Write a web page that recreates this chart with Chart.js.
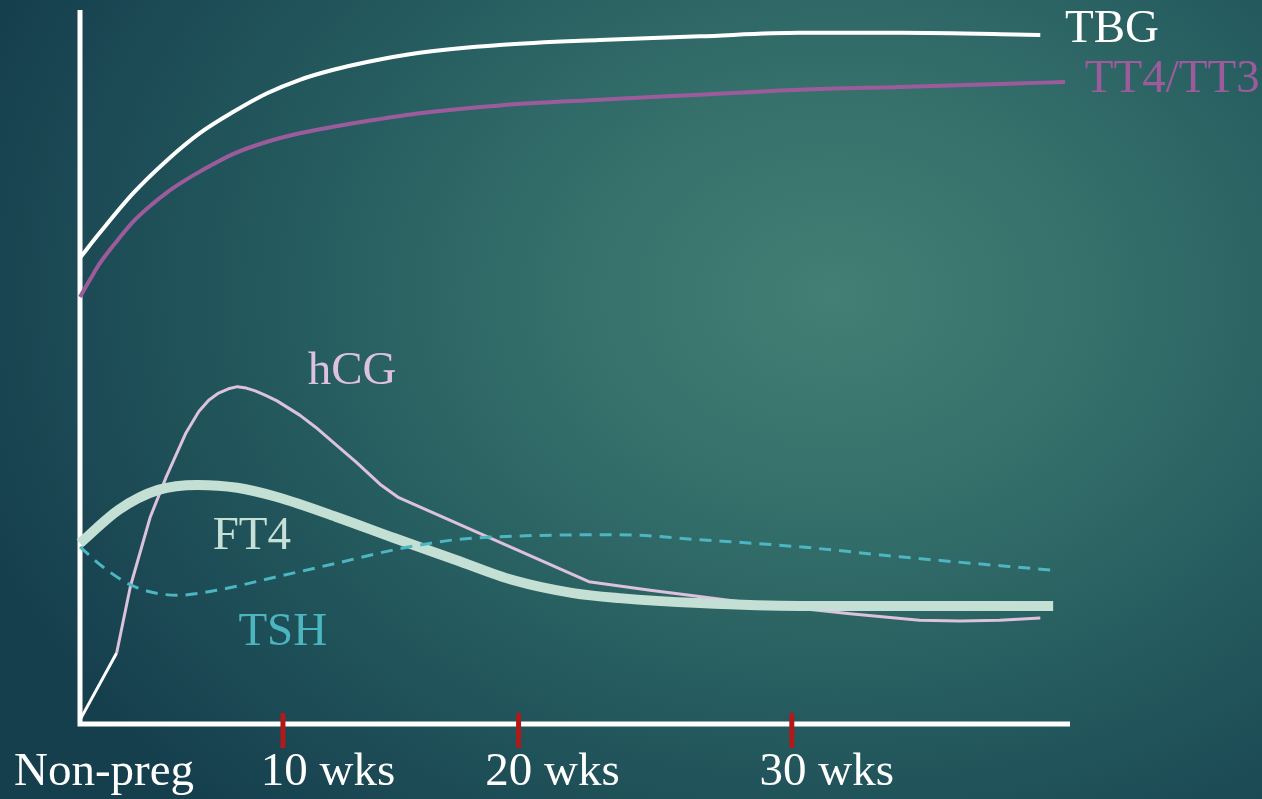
<!DOCTYPE html>
<html>
<head>
<meta charset="utf-8">
<script src="https://cdn.jsdelivr.net/npm/chart.js@4/dist/chart.umd.min.js"></script>
<style>
  html, body { margin: 0; padding: 0; }
  body {
    width: 1262px; height: 799px; overflow: hidden;
    background: radial-gradient(ellipse 900px 700px at 66% 37%, #437f74 0%, #35706b 30%, #245a5e 62%, #163f4e 100%);
  }
  #wrap { width: 1262px; height: 799px; }
</style>
</head>
<body>
<div id="wrap"><canvas id="myChart"></canvas></div>
<script>
// x: relative time along the axis (0 = non-pregnant, 100 = axis end), y: relative level
var tbgX  = [0, 2.0, 5.4, 8.8, 12.1, 15.5, 18.9, 22.2, 25.6, 29.0, 34.3, 42.4, 52.5, 62.6, 72.7, 82.8, 97.0];
var tbgY  = [65.2, 68.7, 74.3, 78.9, 82.7, 85.7, 88.3, 90.2, 91.6, 92.7, 94.0, 95.1, 95.8, 96.3, 96.8, 96.8, 96.5];

var tt4X  = [0, 1.0, 2.0, 3.7, 5.4, 7.1, 8.8, 10.4, 12.1, 15.5, 18.9, 22.2, 25.6, 29.0, 34.3, 42.4, 52.5, 62.6, 72.7, 82.8, 92.9, 99.5];
var tt4Y  = [59.7, 62.1, 64.4, 67.5, 70.3, 72.5, 74.4, 75.9, 77.3, 79.8, 81.5, 82.7, 83.6, 84.4, 85.5, 86.6, 87.4, 88.1, 88.8, 89.2, 89.6, 89.9];

var hcgX  = [0, 3.7, 5.1, 7.1, 8.7, 10.7, 12.0, 13.0, 14.0, 15.0, 15.9, 16.8, 17.7, 18.7, 19.9, 22.2, 23.8, 25.9, 27.9, 30.3, 32.2, 51.4, 57.6, 67.7, 77.8, 84.8, 88.9, 92.9, 97.0];
var hcgY  = [0.3, 9.7, 19.1, 28.8, 34.4, 40.6, 43.6, 45.2, 46.2, 46.8, 47.1, 46.9, 46.5, 45.9, 45.1, 43.1, 41.4, 38.9, 36.5, 33.4, 31.5, 19.7, 18.5, 16.7, 15.2, 14.3, 14.2, 14.3, 14.6];

var ft4X  = [0, 3.9, 7.9, 11.9, 15.9, 19.9, 25.9, 31.8, 37.9, 43.8, 49.8, 54.5, 62.6, 72.7, 98.3];
var ft4Y  = [25.1, 29.8, 32.6, 33.3, 32.9, 31.6, 28.8, 25.8, 22.8, 19.9, 18.1, 17.4, 16.7, 16.3, 16.3];

var tshX  = [0, 2.3, 5.5, 9.9, 13.8, 19.9, 25.9, 31.8, 37.9, 43.8, 54.5, 62.6, 72.7, 82.8, 98.3];
var tshY  = [24.6, 21.8, 19.0, 17.8, 18.5, 20.4, 22.3, 24.2, 25.6, 26.1, 26.3, 25.6, 24.6, 23.2, 21.3];

var tickLabels = ['Non-preg', '10 wks', '20 wks', '30 wks'];
var tickValues = [0, 20.5, 44.3, 71.9];
var markedTicks = [20.5, 44.3, 71.9];

// series labels, anchored in data units
var seriesNames = ['TBG', 'TT4/TT3', 'hCG', 'FT4', 'TSH'];
var nameX = [99.5, 101.5, 23.0, 13.4, 16.0];
var nameY = [97.2, 90.2, 49.2, 26.0, 12.6];
var nameColors = ['#ffffff', '#9c5c9c', '#dcc2dc', '#c6e0d6', '#4cb6c0'];

function pts(xs, ys) {
  return xs.map((x, i) => ({ x: x, y: ys[i] }));
}

var FONT = '47px "Liberation Serif", "DejaVu Serif", serif';

const axesPlugin = {
  id: 'axesPlugin',
  beforeDatasetsDraw(chart) {
    const c = chart.ctx, a = chart.chartArea;
    c.save();
    c.strokeStyle = '#ffffff';
    c.lineWidth = 5;
    c.lineCap = 'butt';
    c.beginPath();
    c.moveTo(a.left, a.top);
    c.lineTo(a.left, a.bottom + 2);
    c.lineTo(a.right, a.bottom + 2);
    c.stroke();
    c.restore();
  },
  afterDatasetsDraw(chart) {
    const c = chart.ctx, a = chart.chartArea;
    const xs = chart.scales.x, ys = chart.scales.y;
    c.save();
    c.strokeStyle = '#b01a1a';
    c.lineWidth = 5;
    markedTicks.forEach(v => {
      const px = xs.getPixelForValue(v);
      c.beginPath();
      c.moveTo(px, a.bottom - 9);
      c.lineTo(px, a.bottom + 26);
      c.stroke();
    });
    c.font = FONT;
    c.fillStyle = '#ffffff';
    c.textBaseline = 'middle';
    c.textAlign = 'center';
    var offs = [24, 45, 34, 35];
    tickLabels.forEach((t, i) => {
      const px = xs.getPixelForValue(tickValues[i]);
      c.fillText(t, px + offs[i], a.bottom + 51);
    });
    c.textAlign = 'left';
    seriesNames.forEach((t, i) => {
      c.fillStyle = nameColors[i];
      c.fillText(t, xs.getPixelForValue(nameX[i]), ys.getPixelForValue(nameY[i]));
    });
    c.restore();
  }
};

const ctx = document.getElementById('myChart');

var myChart = new Chart(ctx, {
  type: 'line',
  data: {
    datasets: [
      {
        label: 'TBG',
        data: pts(tbgX, tbgY),
        borderColor: '#ffffff',
        borderWidth: 4,
        order: 5,
      },
      {
        label: 'TT4/TT3',
        data: pts(tt4X, tt4Y),
        borderColor: '#9c5c9c',
        borderWidth: 4,
        order: 4,
      },
      {
        label: 'hCG',
        data: pts(hcgX, hcgY),
        borderColor: '#dcc2dc',
        borderWidth: 3,
        tension: 0,
        cubicInterpolationMode: 'default',
        borderJoinStyle: 'round',
        segment: {
          borderColor: c => (c.p0DataIndex === 0 ? '#ffffff' : '#dcc2dc'),
        },
        order: 3,
      },
      {
        label: 'FT4',
        data: pts(ft4X, ft4Y),
        borderColor: '#c4e0d4',
        borderWidth: 10,
        order: 2,
      },
      {
        label: 'TSH',
        data: pts(tshX, tshY),
        borderColor: '#4cb6c2',
        borderWidth: 3,
        borderDash: [12, 8],
        order: 1,
      },
    ],
  },
  options: {
    responsive: true,
    maintainAspectRatio: false,
    animation: false,
    events: [],
    layout: { padding: { left: 80, top: 10, right: 192, bottom: 77 } },
    elements: {
      point: { radius: 0 },
      line: { cubicInterpolationMode: 'monotone', fill: false },
    },
    datasets: { line: { clip: false } },
    plugins: {
      legend: { display: false },
      tooltip: { enabled: false },
    },
    scales: {
      x: { type: 'linear', min: 0, max: 100, display: false },
      y: { type: 'linear', min: 0, max: 100, display: false },
    },
  },
  plugins: [axesPlugin],
});
</script>
</body>
</html>
